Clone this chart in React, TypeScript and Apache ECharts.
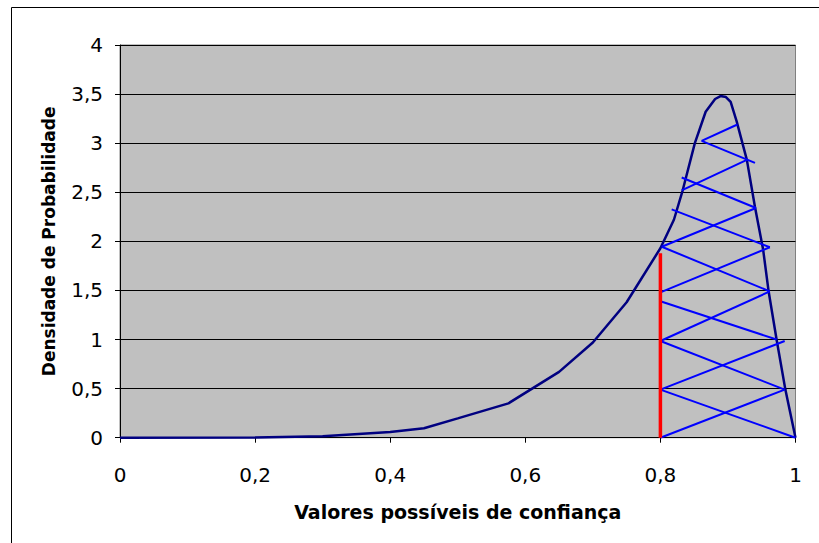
import React, { useEffect, useRef } from "react";
import * as echarts from "echarts";

const curveX = [0, 0.2, 0.3, 0.4, 0.45, 0.5, 0.575, 0.65, 0.7, 0.75, 0.8, 0.82, 0.833, 0.851, 0.867, 0.881, 0.889, 0.897, 0.904, 0.913, 0.928, 0.94, 0.952, 0.96, 0.972, 0.985, 1.0];
const curveY = [0, 0.003, 0.015, 0.058, 0.097, 0.197, 0.35, 0.67, 0.97, 1.38, 1.93, 2.22, 2.52, 3.0, 3.32, 3.45, 3.48, 3.47, 3.42, 3.22, 2.83, 2.35, 1.92, 1.5, 1.0, 0.49, 0];

const cutX = [0.8, 0.8];
const cutY = [0, 1.88];

// hatch segments: [x1, y1, x2, y2]
const hatchSegments = [
  [0.8, 0, 0.984, 0.49],
  [1.0, 0, 0.8, 0.49],
  [0.8, 0.49, 0.984, 0.985],
  [0.8, 0.985, 0.984, 0.49],
  [0.8, 0.985, 0.962, 1.49],
  [0.8, 1.39, 0.972, 1.0],
  [0.8, 1.48, 0.962, 1.94],
  [0.802, 1.945, 0.962, 1.49],
  [0.802, 1.945, 0.9415, 2.34],
  [0.8167, 2.326, 0.962, 1.94],
  [0.8315, 2.65, 0.9415, 2.34],
  [0.8315, 2.52, 0.928, 2.83],
  [0.861, 3.024, 0.94, 2.8],
  [0.861, 3.024, 0.914, 3.19],
];

const xTitle = "Valores possíveis de confiança";
const yTitle = "Densidade de Probabilidade";

const FONT = "'DejaVu Sans', 'Liberation Sans', Arial, sans-serif";
const fmt = (v: number) => Number(v.toFixed(2)).toString().replace(".", ",");

export default function App() {
  const ref = useRef<HTMLDivElement>(null);
  useEffect(() => {
    if (!ref.current) return;
    const chart = echarts.init(ref.current, undefined, { renderer: "svg" });
    chart.setOption({
      animation: false,
      backgroundColor: "#ffffff",
      grid: {
        left: 120,
        top: 45,
        right: 23.5,
        bottom: 105.3,
        show: true,
        backgroundColor: "#C0C0C0",
        borderColor: "#808080",
        borderWidth: 1,
      },
      graphic: [
        {
          type: "rect",
          shape: { x: 11.5, y: 7.5, width: 830, height: 560 },
          style: { fill: "none", stroke: "#000", lineWidth: 1 },
          silent: true,
        },
      ],
      xAxis: {
        type: "value",
        min: 0,
        max: 1,
        interval: 0.2,
        name: xTitle,
        nameLocation: "middle",
        nameGap: 65,
        nameTextStyle: { fontFamily: FONT, fontSize: 19, fontWeight: "bold", color: "#000" },
        axisLine: { show: true, onZero: false, lineStyle: { color: "#000", width: 1 } },
        axisTick: { show: true, inside: false, length: 5, lineStyle: { color: "#000" } },
        axisLabel: { fontFamily: FONT, fontSize: 20, color: "#000", margin: 27, formatter: fmt },
        splitLine: { show: false },
      },
      yAxis: {
        type: "value",
        min: 0,
        max: 4,
        interval: 0.5,
        name: yTitle,
        nameLocation: "middle",
        nameRotate: 90,
        nameGap: 63,
        nameTextStyle: { fontFamily: FONT, fontSize: 17, fontWeight: "bold", color: "#000" },
        axisLine: { show: true, onZero: false, lineStyle: { color: "#000", width: 1 } },
        axisTick: { show: true, inside: false, length: 5, lineStyle: { color: "#000" } },
        axisLabel: { fontFamily: FONT, fontSize: 20, color: "#000", margin: 17, formatter: fmt },
        splitLine: { show: true, lineStyle: { color: "#000", width: 1 } },
      },
      series: [
        {
          type: "line",
          data: curveX.map((x, i) => [x, curveY[i]]),
          showSymbol: false,
          symbol: "none",
          smooth: false,
          lineStyle: { color: "#000080", width: 2.5 },
          z: 3,
        },
        {
          type: "lines",
          coordinateSystem: "cartesian2d",
          data: hatchSegments.map((s) => ({ coords: [[s[0], s[1]], [s[2], s[3]]] })),
          lineStyle: { color: "#0000FF", width: 2, opacity: 1, curveness: 0 },
          z: 4,
        },
        {
          type: "line",
          data: cutX.map((x, i) => [x, cutY[i]]),
          showSymbol: false,
          symbol: "none",
          lineStyle: { color: "#FF0000", width: 3.5 },
          z: 5,
        },
      ],
    });
    return () => chart.dispose();
  }, []);
  return <div ref={ref} style={{ position: "absolute", left: 0, top: 0, width: 819, height: 543 }} />;
}
